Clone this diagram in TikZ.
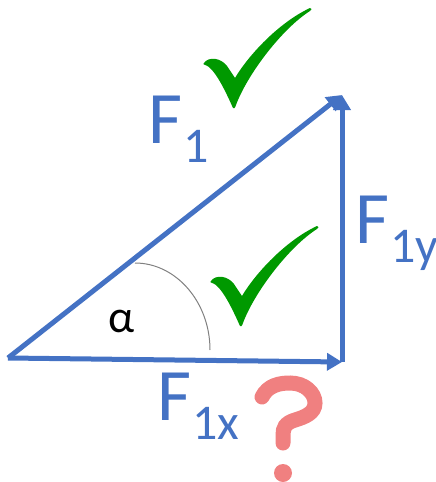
\documentclass[tikz,border=0pt]{standalone}
\usepackage{fontspec}
\setmainfont{Carlito}
\usepackage{xcolor}
\usetikzlibrary{arrows.meta}
\definecolor{fblue}{RGB}{68,114,196}
\definecolor{okgreen}{RGB}{0,153,0}
\definecolor{qpink}{RGB}{240,128,128}
\newcommand{\fsub}[1]{F\kern1pt\raisebox{-19pt}{\fontsize{50}{50}\selectfont #1}}

\begin{document}
\begin{tikzpicture}[x=1pt,y=-1pt,
 vec/.style={fblue,line width=5pt,-{Triangle[length=15pt,width=17pt]}},
 flab/.style={fblue,inner sep=0pt,anchor=base west,font=\fontsize{74}{74}\selectfont},
 tick/.pic={\fill[okgreen] (0,0) .. controls (-8,-18) and (-16,-34) .. (-24,-41)
   .. controls (-28,-44) and (-31,-43) .. (-29,-45)
   .. controls (-24,-52) and (-12,-50) .. (-6,-42) -- (2,-30)
   .. controls (15,-52) and (45,-85) .. (77,-100)
   .. controls (79,-100) and (79,-98) .. (77,-97)
   .. controls (50,-80) and (15,-35) .. (3,-3)
   .. controls (2,0) and (1,1) .. (0,0) -- cycle;}]
\useasboundingbox (0,0) rectangle (436,482);
\coordinate (o) at (8,358);
\coordinate (x) at (342,362);
\coordinate (t) at (342,95);
\coordinate (a1) at (135,263);
\coordinate (a2) at (210,350);
\draw[gray,line width=1pt] (a1) .. controls (176,263) and (210,302) .. (a2);
\foreach \a/\b in {o/t,o/x,x/t}
 \draw[vec] (\a)--(\b);
\node[flab] (f1) at (148,143) {\fsub{1}};
\node[flab] (f1y) at (355,243) {\fsub{1y}};
\node[flab] (f1x) at (157,420) {\fsub{1x}};
\node[inner sep=0pt,anchor=base west,font=\fontsize{46}{46}\selectfont] (al) at (108,332) {α};
\pic at (233,108) {tick};
\pic at (240,326) {tick};
\draw[qpink,line width=15pt,line cap=round] (262,397) .. controls (268,385) and (280,383) .. (290,383)
 .. controls (305,383) and (315,393) .. (315,403) .. controls (315,413) and (305,417) .. (295,420)
 .. controls (285,423) and (283,428) .. (283,435) -- (283,443);
\fill[qpink] (283,473) circle (9pt);
\end{tikzpicture}
\end{document}
